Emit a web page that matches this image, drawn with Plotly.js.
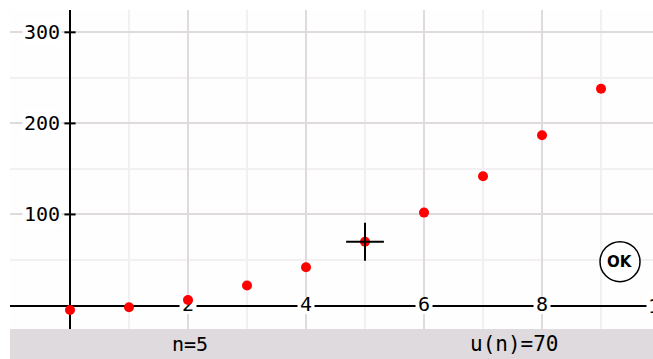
<!DOCTYPE html>
<html><head><meta charset="utf-8">
<script src="https://cdn.plot.ly/plotly-3.0.1.min.js"></script>
<style>html,body{margin:0;padding:0;background:#fff;}#chart{width:653px;height:359px;}</style>
</head><body><div id="chart"></div>
<script>
const nValues = [0, 1, 2, 3, 4, 5, 6, 7, 8, 9];
const uValues = [-5, -2, 6, 22, 42, 70, 102, 142, 187, 238];
const selectedIndex = 5;
const xTickVals = [2, 4, 6, 8];
const xEdgeTick = 10;
const yTickVals = [100, 200, 300];

const monoFont = {family: 'DejaVu Sans Mono', size: 20, color: '#000'};

const traces = [
  {x: xTickVals, y: xTickVals.map(() => 0), type: 'scatter', mode: 'markers+text',
   text: xTickVals.map(String), textposition: 'middle center', textfont: monoFont,
   marker: {symbol: 'square', color: '#ffffff', size: 17}, hoverinfo: 'skip'},
  {x: nValues, y: uValues, type: 'scatter', mode: 'markers',
   marker: {color: '#ff0000', size: 10}, hoverinfo: 'skip', cliponaxis: false},
  {x: [nValues[selectedIndex]], y: [uValues[selectedIndex]], type: 'scatter', mode: 'markers',
   marker: {symbol: 'cross-thin', size: 27, line: {color: '#000', width: 2}}, hoverinfo: 'skip'},
  {x: yTickVals.map(() => 0), y: yTickVals, type: 'scatter', mode: 'markers',
   marker: {symbol: 'line-ew', size: 8, line: {color: '#000', width: 2}}, hoverinfo: 'skip'}
];

const annotations = [];
yTickVals.forEach(v => annotations.push({x: 0, y: v, xref: 'x', yref: 'y', text: String(v),
  showarrow: false, font: monoFont, bgcolor: '#fff', borderpad: 1, xanchor: 'right', yanchor: 'middle', xshift: -8}));
annotations.push({x: (xEdgeTick + 1.017) / 10.898, y: 0, xref: 'paper', yref: 'y', text: String(xEdgeTick),
  showarrow: false, font: monoFont, bgcolor: '#fff', borderpad: 1, xanchor: 'center', yanchor: 'middle'});
annotations.push({x: 0.28, y: -0.047, xref: 'paper', yref: 'paper', text: 'n=' + nValues[selectedIndex],
  showarrow: false, font: monoFont, xanchor: 'center', yanchor: 'middle'});
annotations.push({x: 0.785, y: -0.047, xref: 'paper', yref: 'paper', text: 'u(n)=' + uValues[selectedIndex],
  showarrow: false, font: {family: 'DejaVu Sans Mono', size: 21, color: '#000'}, xanchor: 'center', yanchor: 'middle'});
annotations.push({x: 0.9487, y: 0.211, xref: 'paper', yref: 'paper', text: '<b>OK</b>',
  showarrow: false, font: {family: 'DejaVu Sans', size: 15, color: '#000'}, xanchor: 'center', yanchor: 'middle'});

const layout = {
  width: 653, height: 359,
  margin: {l: 10, r: 0, t: 10, b: 30},
  paper_bgcolor: '#fff', plot_bgcolor: '#fefefe',
  showlegend: false,
  xaxis: {range: [-1.017, 9.881], dtick: 2, tick0: 0, showticklabels: false, ticks: '',
    showgrid: true, gridcolor: '#dedade', gridwidth: 2,
    minor: {dtick: 1, showgrid: true, gridcolor: '#f2f0f2', gridwidth: 2},
    zeroline: true, zerolinecolor: '#000', zerolinewidth: 2, showline: false, fixedrange: true},
  yaxis: {range: [-25.8, 324.5], dtick: 100, tick0: 0, showticklabels: false, ticks: '',
    showgrid: true, gridcolor: '#dedade', gridwidth: 2,
    minor: {dtick: 50, showgrid: true, gridcolor: '#f2f0f2', gridwidth: 2},
    zeroline: true, zerolinecolor: '#000', zerolinewidth: 2, showline: false, fixedrange: true},
  shapes: [
    {type: 'rect', xref: 'paper', yref: 'paper', x0: 0, x1: 1, y0: -0.095, y1: 0,
     fillcolor: '#dedade', line: {width: 0}, layer: 'above'},
    {type: 'circle', xref: 'paper', yref: 'paper', xsizemode: 'pixel', ysizemode: 'pixel',
     xanchor: 0.9487, yanchor: 0.211, x0: -20, x1: 20, y0: -20, y1: 20,
     line: {color: '#000', width: 1.5}, fillcolor: '#fff', layer: 'above'}
  ],
  annotations: annotations
};

Plotly.newPlot('chart', traces, layout, {displayModeBar: false, staticPlot: true});
</script></body></html>
